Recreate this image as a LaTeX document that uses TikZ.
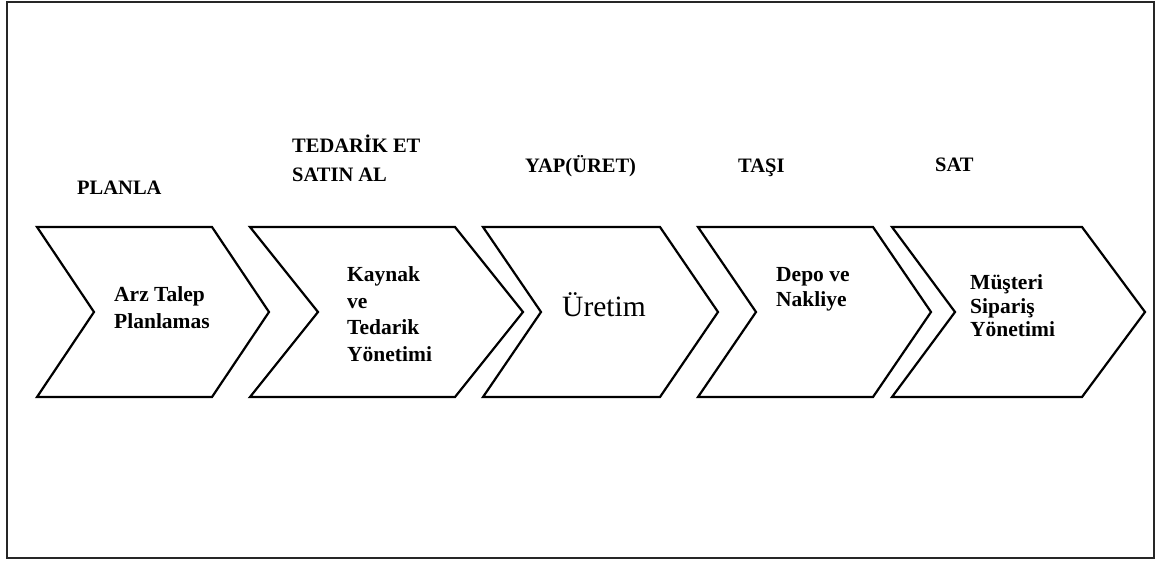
\documentclass[tikz,border=0pt]{standalone}
\usepackage{fontspec}
\setmainfont{Liberation Serif}
\newcommand\mychev[3]{% left, right, depth
  \draw[chev] (#1,227) -- (#2,227) -- ({#2+#3},312) -- (#2,397) -- (#1,397) -- ({#1+#3},312) -- cycle;}
\begin{document}
\begin{tikzpicture}[x=1pt,y=-1pt,
  chev/.style={draw=black,line width=2.2pt,line join=miter},
  frame/.style={draw=black!85,line width=2pt},
  lbl/.style={anchor=base west,inner sep=0pt,font=\fontsize{20.5}{24}\selectfont\bfseries},
  txt/.style={anchor=base west,inner sep=0pt,font=\fontsize{21.5}{25}\selectfont\bfseries},
  big/.style={anchor=base west,inner sep=0pt,font=\fontsize{29.5}{33}\selectfont}]
\useasboundingbox (0,0) rectangle (1169,563);
\draw[frame] (7,2) rectangle (1154,558);
% chevrons
\mychev{37}{212}{57}
\mychev{250}{455}{68}
\mychev{483}{660}{58}
\mychev{698}{873}{58}
\mychev{892}{1082}{63}
% top labels
\node[lbl] (l1) at (77,194) {PLANLA};
\node[lbl] (l2a) at (292,152.5) {TEDARİK ET};
\node[lbl] (l2b) at (292,181.5) {SATIN AL};
\node[lbl] (l3) at (525,172) {YAP(ÜRET)};
\node[lbl] (l4) at (738,172) {TAŞI};
\node[lbl] (l5) at (935,171) {SAT};
% inner texts
\node[txt] (a1) at (114,301.5) {Arz Talep};
\node[txt] (a2) at (114,328.5) {Planlamas};
\node[txt] (b1) at (347,281.5) {Kaynak};
\node[txt] (b2) at (347,308) {ve};
\node[txt] (b3) at (347,334.5) {Tedarik};
\node[txt] (b4) at (347,361) {Yönetimi};
\node[big] (c1) at (562,316.5) {Üretim};
\node[txt] (d1) at (776,281.5) {Depo ve};
\node[txt] (d2) at (776,306.5) {Nakliye};
\node[txt] (e1) at (970,289.5) {Müşteri};
\node[txt] (e2) at (970,313) {Sipariş};
\node[txt] (e3) at (970,336.5) {Yönetimi};
\end{tikzpicture}
\end{document}
